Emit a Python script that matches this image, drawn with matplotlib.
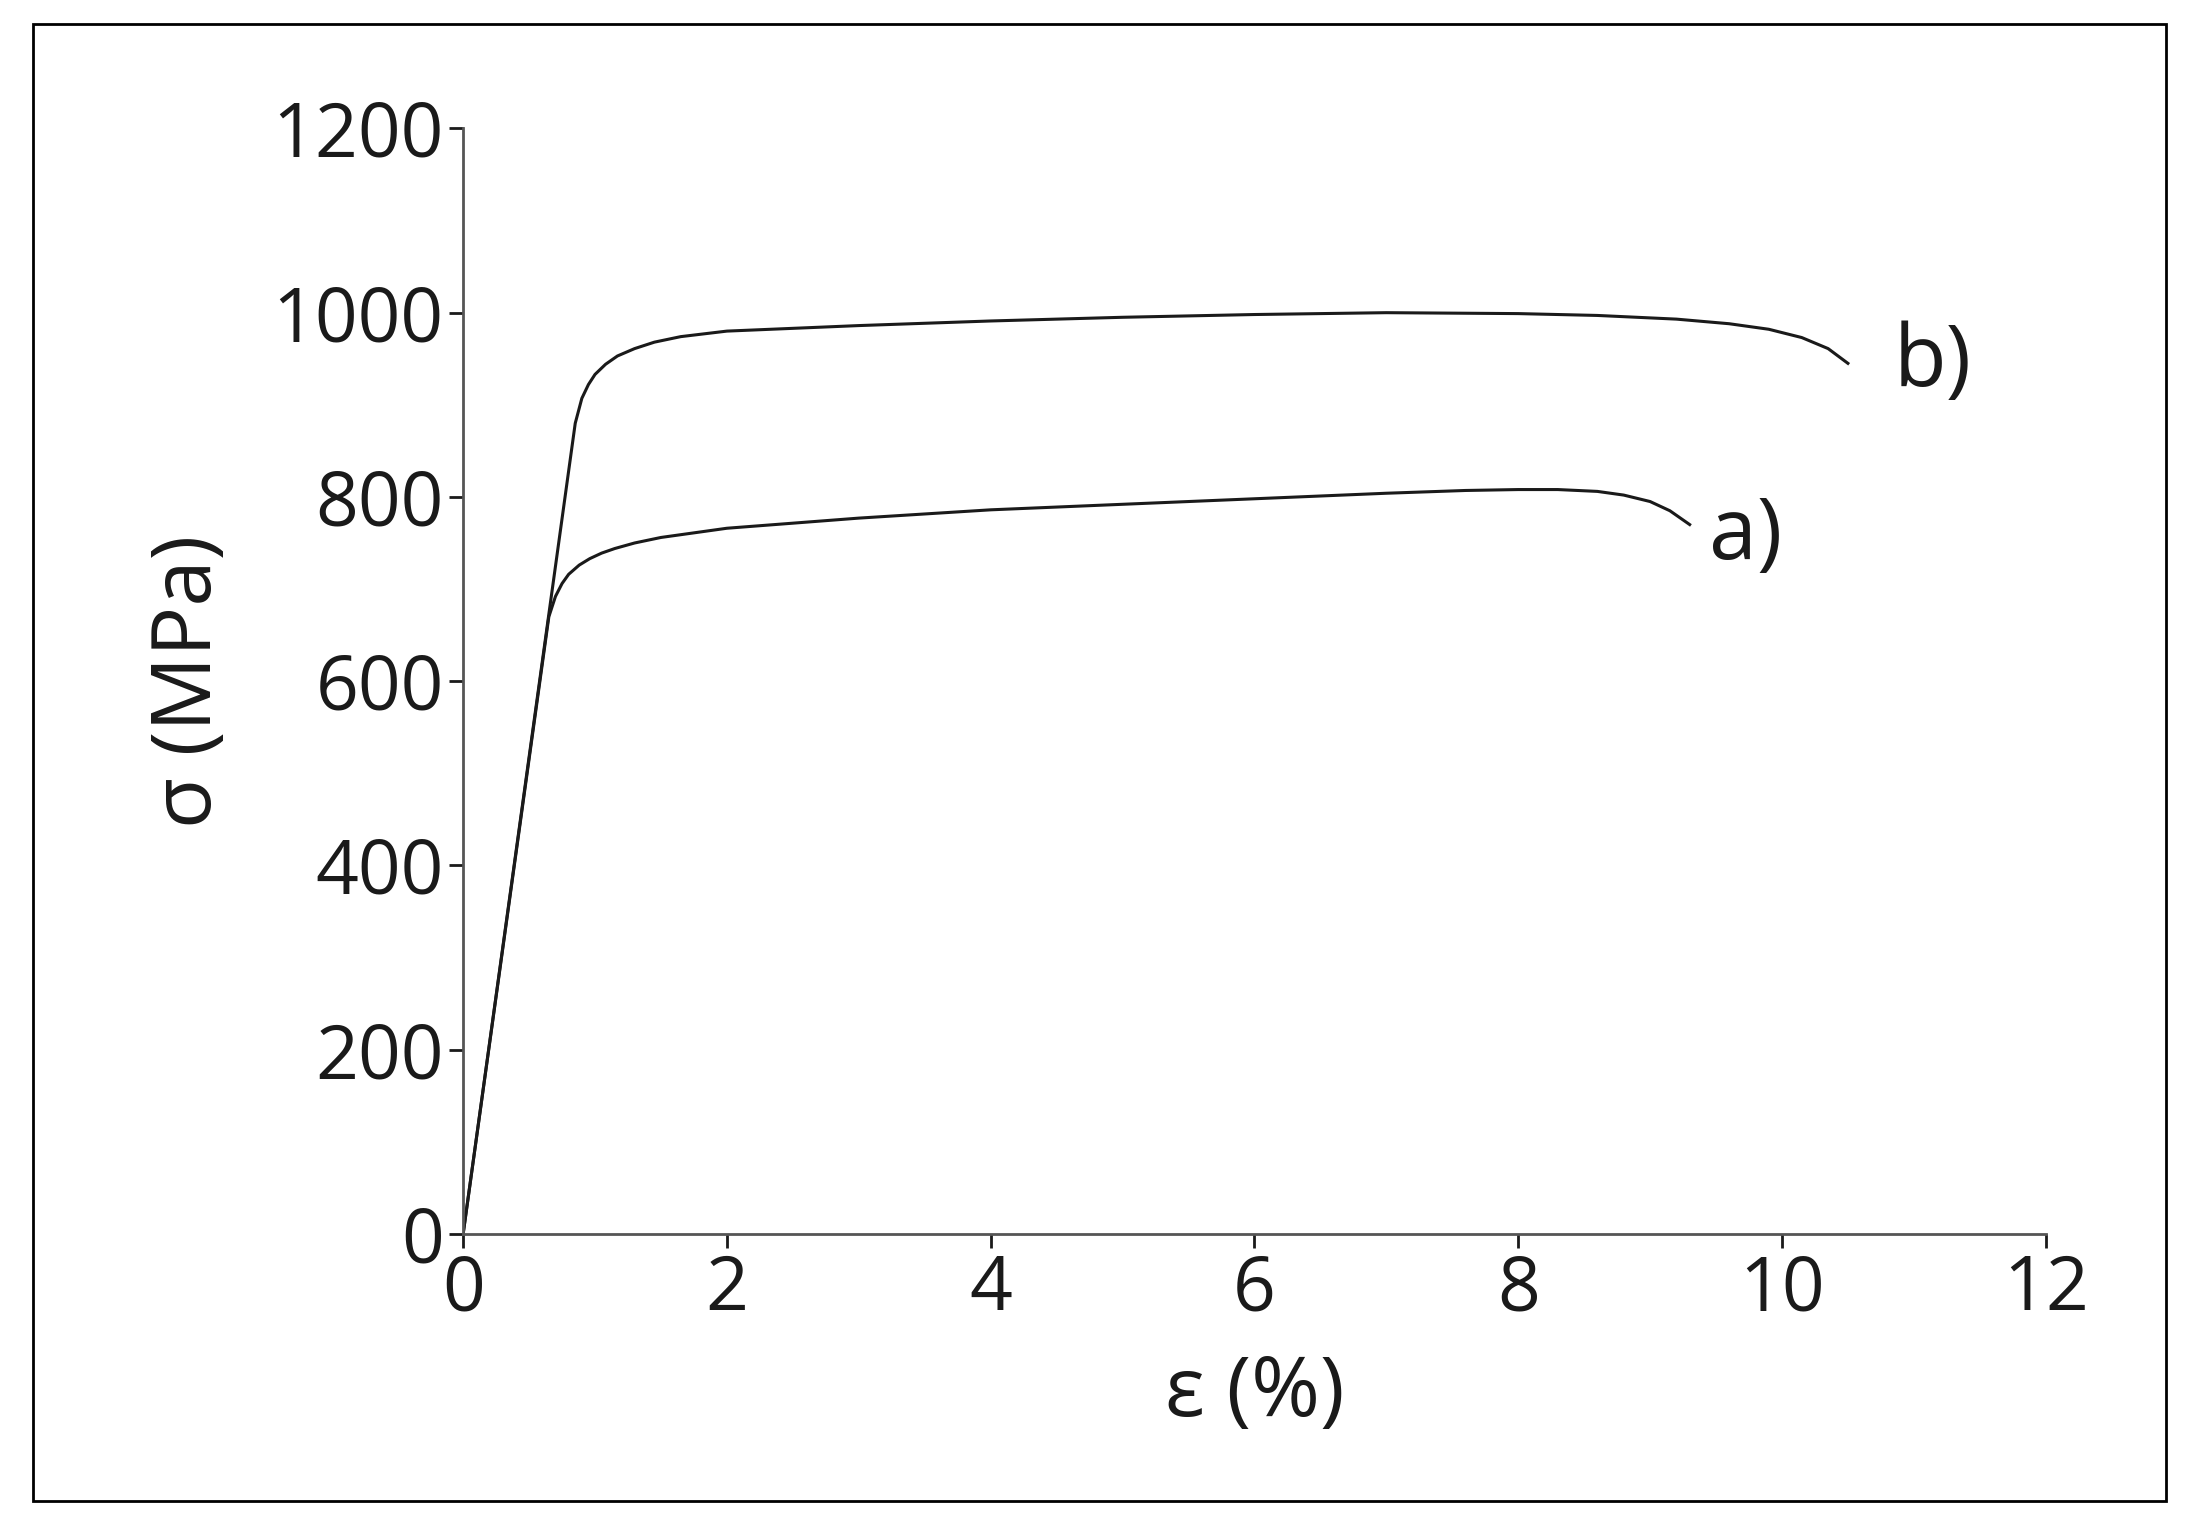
import numpy as np
import matplotlib
matplotlib.use('Agg')
import matplotlib.pyplot as plt
from matplotlib.patches import Rectangle

plt.rcParams['font.family'] = ['Open Sans', 'DejaVu Sans']

# curve a)
strain_a = [0, 0.65, 0.7, 0.75, 0.8, 0.88, 0.96, 1.05, 1.15, 1.3, 1.5, 1.75, 2.0, 3.0, 4.0, 5.0,
            6.0, 7.0, 7.6, 8.0, 8.3, 8.6, 8.8, 9.0, 9.15, 9.3]
stress_a = [0, 670, 692, 706, 716, 726, 733, 739, 744, 750, 756, 761, 766, 777, 786, 792,
            798, 804, 807, 808, 808, 806, 802, 795, 785, 770]
# curve b)
strain_b = [0, 0.85, 0.9, 0.95, 1.0, 1.08, 1.17, 1.3, 1.45, 1.65, 2.0, 3.0, 4.0, 5.0, 6.0, 7.0,
            8.0, 8.6, 9.2, 9.6, 9.9, 10.15, 10.35, 10.5]
stress_b = [0, 880, 907, 922, 933, 944, 953, 961, 968, 974, 980, 986, 991, 995, 998, 1000,
            999, 997, 993, 988, 982, 973, 961, 945]

ink = '#1a1a1a'
fig = plt.figure(figsize=(21.95, 15.29), dpi=100)
fig.patches.append(Rectangle((0.015, 0.018), 0.972, 0.966, transform=fig.transFigure,
                             fill=False, edgecolor='black', linewidth=2))
ax = fig.add_axes([0.211, 0.193, 0.721, 0.723])
ax.plot(strain_a, stress_a, color=ink, linewidth=2.2)
ax.plot(strain_b, stress_b, color=ink, linewidth=2.2)
ax.set_xlim(0, 12)
ax.set_ylim(0, 1200)
ax.set_xticks(np.arange(0, 13, 2))
ax.set_yticks(np.arange(0, 1201, 200))
for s in ['top', 'right']:
    ax.spines[s].set_visible(False)
for s in ['left', 'bottom']:
    ax.spines[s].set_color('#555555')
    ax.spines[s].set_linewidth(2)
ax.tick_params(labelsize=54, colors=ink, length=10, width=2, pad=4)
ax.set_xlabel('ε (%)', fontsize=60, color=ink, labelpad=18)
ax.set_ylabel('σ (MPa)', fontsize=60, color=ink, labelpad=30)
ax.text(10.85, 945, 'b)', fontsize=62, color=ink, va='center')
ax.text(9.45, 757, 'a)', fontsize=62, color=ink, va='center')
fig.savefig('out.png', dpi=100)
